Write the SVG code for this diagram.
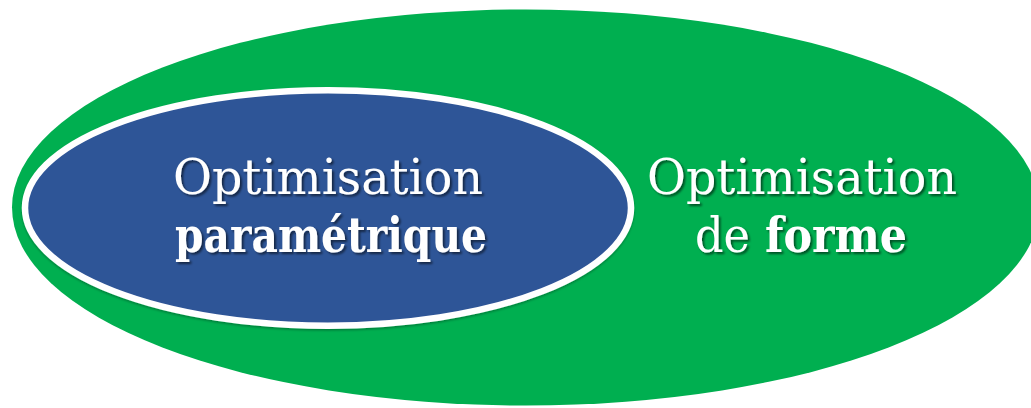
<svg xmlns="http://www.w3.org/2000/svg" width="1031" height="408" viewBox="0 0 1031 408">
  <defs>
    <filter id="txtShadow" x="-10%" y="-30%" width="120%" height="160%">
      <feDropShadow dx="2" dy="2" stdDeviation="1.3" flood-color="#000" flood-opacity="0.55"/>
    </filter>
    <filter id="shapeShadow" x="-5%" y="-5%" width="110%" height="115%">
      <feDropShadow dx="0" dy="1.5" stdDeviation="1" flood-color="#000" flood-opacity="0.3"/>
    </filter>
  </defs>
  <style>
    .lbl { font-family: "DejaVu Serif", "Liberation Serif", serif; font-size: 48px; fill: #ffffff; filter: url(#txtShadow); }
    .b { font-weight: bold; }
  </style>
  <rect width="1031" height="408" fill="#ffffff"/>
  <g id="node-forme">
    <ellipse cx="525.5" cy="207.5" rx="513.5" ry="198" fill="#00AF50"/>
    <text class="lbl"><tspan x="647" y="194" textLength="310" lengthAdjust="spacingAndGlyphs">Optimisation</tspan><tspan x="695" y="252" textLength="55" lengthAdjust="spacingAndGlyphs">de</tspan><tspan class="b" x="765" y="252" textLength="142" lengthAdjust="spacingAndGlyphs">forme</tspan></text>
  </g>
  <g id="node-parametrique">
    <ellipse cx="328" cy="208" rx="303" ry="117.75" fill="#2F5597" stroke="#ffffff" stroke-width="6.5" filter="url(#shapeShadow)"/>
    <text class="lbl"><tspan x="173" y="194" textLength="310" lengthAdjust="spacingAndGlyphs">Optimisation</tspan><tspan class="b" x="175" y="252" textLength="312" lengthAdjust="spacingAndGlyphs">paramétrique</tspan></text>
  </g>
  <g id="connectors"></g>
</svg>
